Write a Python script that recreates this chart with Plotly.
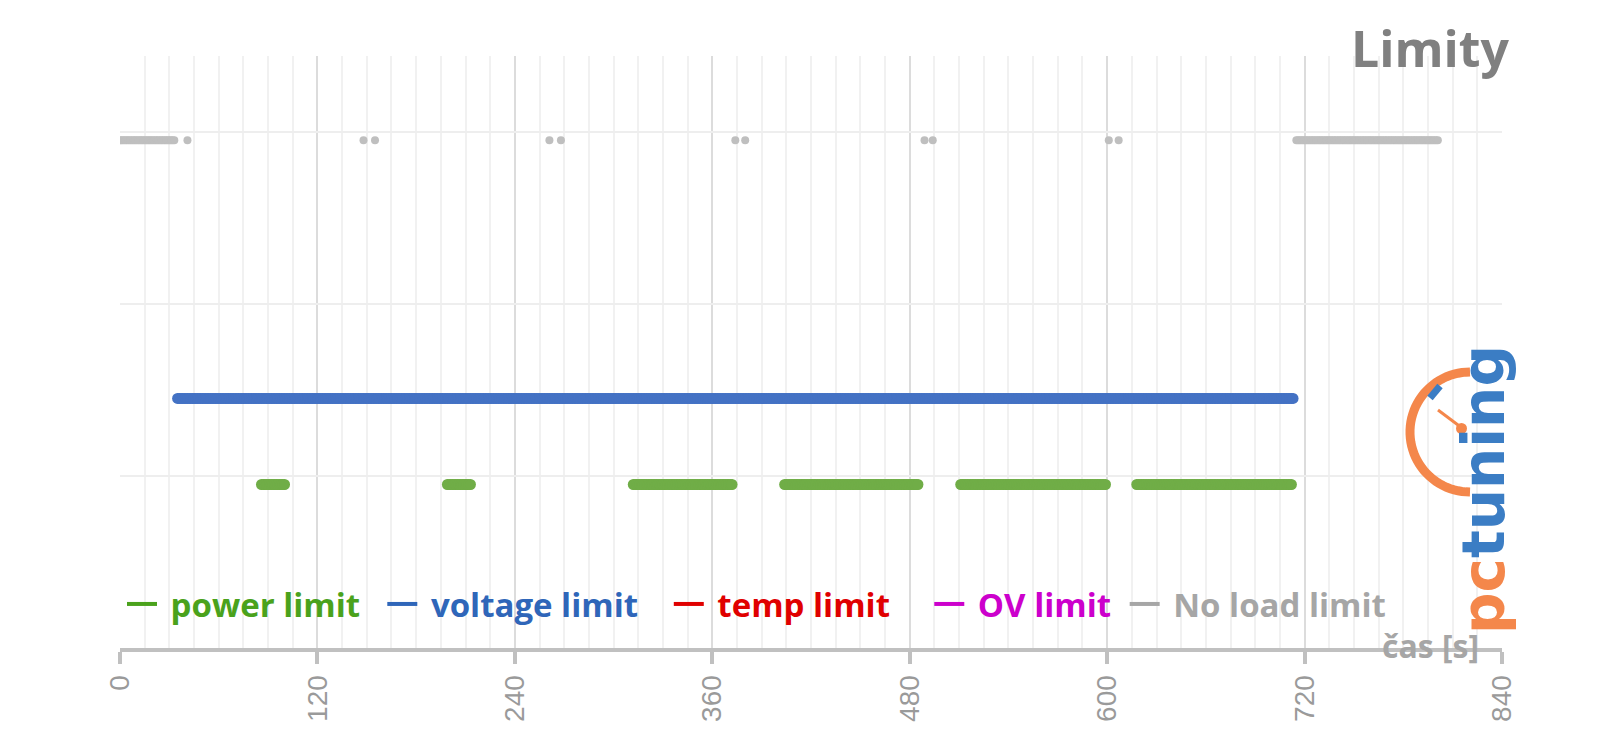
import numpy as np
import plotly.graph_objects as go

# ---------------- data (seconds) ----------------
# Limit flags are plotted as horizontal "bands" of 1-second samples.
power_start = [86, 199, 312, 404, 511, 618]
power_end = [100, 213, 372, 485, 599, 712]
power_level = 0.95

voltage_start = [35]
voltage_end = [713]
voltage_level = 1.45

noload_start = [0, 41, 148, 155, 261, 268, 374, 380, 489, 494, 601, 607, 715]
noload_end = [33, 41, 148, 155, 261, 268, 374, 380, 489, 494, 601, 607, 801]
noload_level = 2.95

x_ticks = [0, 120, 240, 360, 480, 600, 720, 840]

series_names = ["power limit", "voltage limit", "temp limit", "OV limit", "No load limit"]
legend_colors = ["#4aa21c", "#2f66b9", "#e00000", "#cc00cc", "#a6a6a6"]
legend_pad = [2, 3, 4, 1, 0]  # trailing spacing after each legend label
marker_colors = {"power": "#70ad47", "voltage": "#4472c4", "noload": "#bfbfbf"}


def expand(starts, ends):
    xs = []
    for s, e in zip(starts, ends):
        xs.extend(range(s, e + 1))
    return xs


power_x = expand(power_start, power_end)
voltage_x = expand(voltage_start, voltage_end)
noload_x = expand(noload_start, noload_end)

fig = go.Figure()

fig.add_trace(go.Scatter(x=noload_x, y=[noload_level] * len(noload_x), mode="markers",
                         marker=dict(color=marker_colors["noload"], size=8, line=dict(width=0)),
                         showlegend=False, hoverinfo="x"))
fig.add_trace(go.Scatter(x=voltage_x, y=[voltage_level] * len(voltage_x), mode="markers",
                         marker=dict(color=marker_colors["voltage"], size=11, line=dict(width=0)),
                         showlegend=False, hoverinfo="x"))
fig.add_trace(go.Scatter(x=power_x, y=[power_level] * len(power_x), mode="markers",
                         marker=dict(color=marker_colors["power"], size=11, line=dict(width=0)),
                         showlegend=False, hoverinfo="x"))

# legend entries
for name, col, pad in zip(series_names, legend_colors, legend_pad):
    fig.add_trace(go.Scatter(x=[None], y=[None], mode="lines",
                             line=dict(color=col, width=4),
                             name="&nbsp;" + f"<b><span style='color:{col}'>{name}</span></b>" + "&nbsp;" * pad))

# ---------------- layout helpers ----------------
L, R, T, B = 120, 98, 56, 97
W, H = 1600, 745
pw, ph = W - L - R, H - T - B


def px2paper(px, py):
    return (px - L) / pw, (H - B - py) / ph


shapes = []
# logo gauge arc
cx, cy, rad = 1470, 432, 60
ang = np.linspace(np.pi / 2, 3 * np.pi / 2, 48)
pts = [px2paper(cx + rad * np.cos(a), cy - rad * np.sin(a)) for a in ang]
path = "M " + " L ".join(f"{x:.5f},{y:.5f}" for x, y in pts)
shapes.append(dict(type="path", xref="paper", yref="paper", path=path,
                   line=dict(color="#f4874b", width=9), layer="above"))
# blue mark on the gauge
a1, a2 = px2paper(1430, 398), px2paper(1440, 386)
shapes.append(dict(type="line", xref="paper", yref="paper", x0=a1[0], y0=a1[1], x1=a2[0], y1=a2[1],
                   line=dict(color="#3b7dc4", width=7), layer="above"))
# needle
n1, n2 = px2paper(1438, 410), px2paper(1462, 428)
shapes.append(dict(type="line", xref="paper", yref="paper", x0=n1[0], y0=n1[1], x1=n2[0], y1=n2[1],
                   line=dict(color="#f4874b", width=3), layer="above"))
c1, c2 = px2paper(1456, 423), px2paper(1467, 434)
shapes.append(dict(type="circle", xref="paper", yref="paper", x0=c1[0], y0=c1[1], x1=c2[0], y1=c2[1],
                   fillcolor="#f4874b", line=dict(width=0), layer="above"))

annotations = []
tx, ty = px2paper(1512, 12)
annotations.append(dict(text="<b>Limity</b>", xref="paper", yref="paper", x=tx, y=ty,
                        xanchor="right", yanchor="top", showarrow=False,
                        font=dict(family="Open Sans", size=50, color="#808080")))
ax_, ay_ = px2paper(1430, 645)
annotations.append(dict(text="<b>čas [s]</b>", xref="paper", yref="paper", x=ax_, y=ay_,
                        xanchor="center", yanchor="middle", showarrow=False,
                        font=dict(family="Open Sans", size=32, color="#a6a6a6")))
lx, ly = px2paper(1484, 490)
annotations.append(dict(text="<span style='color:#f4874b'>pc</span><span style='color:#3b7dc4'>tuning</span>",
                        xref="paper", yref="paper", x=lx, y=ly, textangle=-90,
                        xanchor="center", yanchor="middle", showarrow=False,
                        font=dict(family="DejaVu Sans", size=58, color="#3b7dc4", weight="bold")))

lgx, lgy = px2paper(122, 604)

fig.update_layout(
    width=W, height=H,
    margin=dict(l=L, r=R, t=T, b=B),
    paper_bgcolor="white", plot_bgcolor="white",
    shapes=shapes, annotations=annotations,
    legend=dict(orientation="h", x=lgx, y=lgy, xanchor="left", yanchor="middle",
                bgcolor="rgba(0,0,0,0)", font=dict(family="Open Sans", size=33),
                itemwidth=30, tracegroupgap=0),
    xaxis=dict(range=[0, 840], tickvals=x_ticks, ticktext=[str(v) for v in x_ticks],
               tickangle=-90, tickfont=dict(family="Liberation Sans", size=28, color="#9a9a9a"),
               showgrid=True, gridcolor="#dcdcdc", gridwidth=2,
               minor=dict(dtick=15, showgrid=True, gridcolor="#f1f1f1", gridwidth=1.5),
               showline=True, linecolor="#c0c0c0", linewidth=4,
               ticks="outside", ticklen=12, tickwidth=4, tickcolor="#c0c0c0",
               zeroline=False, fixedrange=True),
    yaxis=dict(range=[0, 3.44], tickvals=[1, 2, 3], showticklabels=False,
               showgrid=True, gridcolor="#eeeeee", gridwidth=2,
               zeroline=False, showline=False, fixedrange=True),
    hovermode="closest",
)

fig.write_html("out.html")
